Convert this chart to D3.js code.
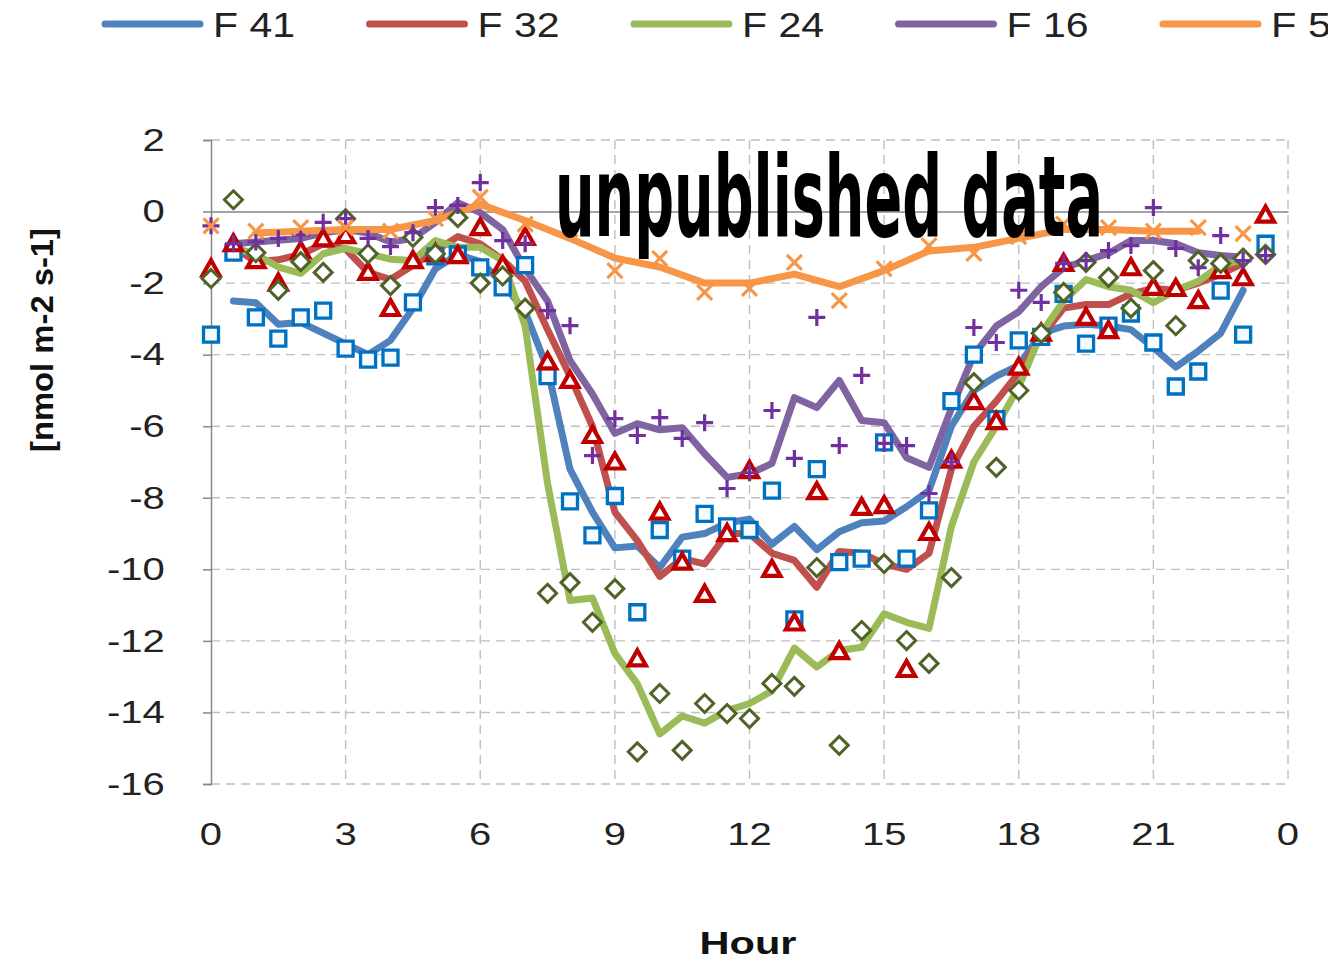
<!DOCTYPE html>
<html>
<head>
<meta charset="utf-8">
<script src="https://cdn.jsdelivr.net/npm/d3@7"></script>
<style>
  html, body { margin: 0; padding: 0; background: #fff; }
  svg { display: block; }
</style>
</head>
<body>
<svg id="chart" width="1328" height="960"></svg>
<script>
// Half-hourly sampling times (h) for the measured fluxes
const halfHours = d3.range(0, 24, 0.5);
// Hourly sampling times for F 5
const hours = d3.range(0, 24, 1);
// Smoothed curves: 0.5 h .. 23 h (half-hourly), F 5 smoothed: 1 h .. 22 h
const smoothHalfHours = d3.range(0.5, 23.01, 0.5);
const smoothHours = d3.range(1, 22.01, 1);

const seriesNames = ["F 41", "F 32", "F 24", "F 16", "F 5"];

// Measured values [nmol m-2 s-1]
const f41Points = [-3.44,-1.15,-2.96,-3.55,-2.96,-2.77,-3.83,-4.14,-4.08,-2.54,-1.25,-1.2,
  -1.56,-2.12,-1.5,-4.6,-8.1,-9.05,-7.95,-11.2,-8.9,-9.7,-8.45,-8.8,
  -8.9,-7.8,-11.4,-7.2,-9.8,-9.7,-6.45,-9.7,-8.35,-5.3,-4.0,-5.8,
  -3.6,-3.5,-2.3,-3.69,-3.19,-2.85,-3.66,-4.89,-4.47,-2.21,-3.44,-0.9];
const f32Points = [-1.6,-0.9,-1.37,-2.0,-1.1,-0.76,-0.67,-1.7,-2.71,-1.37,-1.18,-1.23,
  -0.45,-1.5,-0.72,-4.2,-4.72,-6.26,-7.0,-12.5,-8.4,-9.8,-10.7,-9.0,
  -7.24,-10.0,-11.5,-7.83,-12.3,-8.27,-8.22,-12.8,-8.97,-6.95,-5.31,-5.87,
  -4.35,-3.4,-1.45,-2.96,-3.33,-1.57,-2.12,-2.15,-2.49,-1.65,-1.85,-0.1];
const f24Points = [-1.87,0.33,-1.15,-2.2,-1.4,-1.7,-0.2,-1.18,-2.07,-0.72,-1.18,-0.17,
  -2.0,-1.8,-2.7,-10.67,-10.37,-11.48,-10.54,-15.1,-13.47,-15.06,-13.75,-14.03,
  -14.17,-13.19,-13.27,-9.95,-14.92,-11.71,-9.84,-11.99,-12.63,-10.23,-4.78,-7.15,
  -5.0,-3.4,-2.26,-1.42,-1.84,-2.7,-1.65,-3.19,-1.37,-1.45,-1.3,-1.2];
const f16Points = [-0.4,-0.9,-0.85,-0.75,-0.65,-0.3,-0.2,-0.75,-0.98,-0.59,0.11,0.17,
  0.81,-0.81,-0.9,-2.77,-3.19,-6.82,-5.79,-6.26,-5.76,-6.34,-5.9,-7.74,
  -7.3,-5.56,-6.9,-2.96,-6.54,-4.58,-6.48,-6.54,-7.88,-7.0,-3.24,-3.66,
  -2.2,-2.54,-1.45,-1.37,-1.09,-0.95,0.11,-1.03,-1.57,-0.67,-1.37,-1.23];
const f5Points = [-0.4,-0.55,-0.45,-0.45,-0.55,-0.2,0.4,-0.35,-0.5,-1.65,-1.31,-2.26,
  -2.15,-1.42,-2.49,-1.6,-0.95,-1.17,-0.7,-0.35,-0.45,-0.55,-0.45,-0.62];

// Smoothed curves
const f41Line = [-2.5,-2.55,-3.15,-3.1,-3.4,-3.7,-4.0,-3.6,-2.7,-1.6,
  -1.2,-1.4,-2.0,-2.8,-4.4,-7.2,-8.4,-9.4,-9.35,-9.95,
  -9.1,-9.0,-8.7,-8.6,-9.3,-8.8,-9.45,-8.95,-8.7,-8.65,
  -8.25,-7.8,-6.0,-5.0,-4.6,-4.3,-3.4,-3.2,-3.15,-3.2,
  -3.3,-3.8,-4.35,-3.9,-3.4,-2.2];
const f32Line = [-1.0,-1.4,-1.35,-1.2,-0.9,-1.05,-1.7,-1.9,-1.5,-1.1,
  -0.7,-0.9,-1.35,-1.95,-3.3,-4.6,-6.0,-8.4,-9.2,-10.2,
  -9.7,-9.85,-9.0,-9.0,-9.55,-9.75,-10.5,-9.5,-9.55,-9.85,
  -10.0,-9.55,-7.2,-6.0,-5.3,-4.5,-3.5,-2.7,-2.6,-2.6,
  -2.3,-2.15,-2.2,-2.0,-1.75,-1.45];
const f24Line = [-1.0,-1.2,-1.55,-1.73,-1.18,-1.03,-1.18,-1.33,-1.37,-0.81,
  -1.0,-1.0,-1.37,-3.2,-7.6,-10.87,-10.8,-12.35,-13.2,-14.6,
  -14.1,-14.3,-13.95,-13.75,-13.4,-12.2,-12.73,-12.27,-12.18,-11.24,
  -11.48,-11.65,-8.8,-7.0,-6.0,-4.9,-3.4,-2.5,-1.9,-2.1,
  -2.2,-2.55,-2.2,-1.95,-1.5,-1.35];
const f16Line = [-0.9,-0.85,-0.8,-0.75,-0.6,-0.5,-0.6,-0.85,-0.75,-0.3,
  0.25,-0.03,-0.5,-1.6,-2.5,-4.16,-5.1,-6.2,-5.93,-6.1,
  -6.04,-6.77,-7.43,-7.33,-7.04,-5.2,-5.48,-4.72,-5.84,-5.9,
  -6.88,-7.15,-5.5,-4.0,-3.2,-2.8,-2.1,-1.57,-1.37,-1.17,
  -0.81,-0.81,-0.9,-1.15,-1.23,-1.28];
const f5Line = [-0.6,-0.55,-0.5,-0.5,-0.25,0.2,-0.25,-0.75,-1.3,-1.55,-2.0,
  -2.0,-1.75,-2.1,-1.65,-1.1,-1.0,-0.75,-0.5,-0.5,-0.55,-0.55];

const xTickValues = [0, 3, 6, 9, 12, 15, 18, 21, 24];
const xTickLabels = ["0", "3", "6", "9", "12", "15", "18", "21", "0"];
const yTickValues = [2, 0, -2, -4, -6, -8, -10, -12, -14, -16];

// ---- layout ----
const svg = d3.select("#chart");
const plot = { left: 211, right: 1288, top: 140, bottom: 784 };
const x = d3.scaleLinear().domain([0, 24]).range([plot.left, plot.right]);
const y = d3.scaleLinear().domain([-16, 2]).range([plot.bottom, plot.top]);

const lineColors = ["#4F81BD", "#C0504D", "#9BBB59", "#8064A2", "#F79646"];
const markerColors = ["#0070C0", "#C00000", "#4F6228", "#7030A0", "#F79646"];

// gridlines
const grid = svg.append("g").attr("class", "grid");
grid.selectAll("line.h").data(yTickValues.filter(v => v !== 0)).join("line")
  .attr("x1", plot.left).attr("x2", plot.right)
  .attr("y1", d => y(d)).attr("y2", d => y(d))
  .attr("stroke", "#BFBFBF").attr("stroke-width", 1.4).attr("stroke-dasharray", "9,6");
grid.selectAll("line.v").data(xTickValues.slice(1)).join("line")
  .attr("x1", d => x(d)).attr("x2", d => x(d))
  .attr("y1", plot.top).attr("y2", plot.bottom)
  .attr("stroke", "#BFBFBF").attr("stroke-width", 1.4).attr("stroke-dasharray", "9,6");

// y axis
const yAxis = svg.append("g").attr("transform", `translate(${plot.left},0)`)
  .call(d3.axisLeft(y).tickValues(yTickValues).tickSize(8).tickPadding(29)
    .tickFormat(d => String(d)));
yAxis.select(".domain").attr("stroke", "#868686").attr("stroke-width", 1.5);
yAxis.selectAll(".tick line").attr("stroke", "#868686").attr("stroke-width", 1.5);
yAxis.selectAll(".tick text")
  .attr("font-family", "Liberation Sans, Arial, sans-serif")
  .attr("font-size", 32).attr("fill", "#222")
  .attr("transform", "scale(1.25,1)");

// zero line (x axis)
const xAxis = svg.append("g").attr("transform", `translate(0,${y(0)})`)
  .call(d3.axisBottom(x).tickValues(xTickValues).tickSize(0).tickFormat(""));
xAxis.select(".domain").attr("stroke", "#868686").attr("stroke-width", 1.5);

// x tick labels along the bottom
svg.append("g").selectAll("text").data(xTickValues).join("text")
  .attr("transform", d => `translate(${x(d)},${plot.bottom + 61}) scale(1.25,1)`)
  .attr("text-anchor", "middle")
  .attr("font-family", "Liberation Sans, Arial, sans-serif")
  .attr("font-size", 32).attr("fill", "#222")
  .text((d, i) => xTickLabels[i]);

// smoothed lines
const lineGen = d3.line().x(d => x(d[0])).y(d => y(d[1]));
const lineData = [
  d3.zip(smoothHalfHours, f41Line),
  d3.zip(smoothHalfHours, f32Line),
  d3.zip(smoothHalfHours, f24Line),
  d3.zip(smoothHalfHours, f16Line),
  d3.zip(smoothHours, f5Line)
];

// marker paths
const s = 7.5;
const markerPath = [
  `M${-s},${-s}H${s}V${s}H${-s}Z`,
  `M0,${-s - 1}L${s + 1},${s - 1}L${-s - 1},${s - 1}Z`,
  `M0,${-s - 1.5}L${s + 1.5},0L0,${s + 1.5}L${-s - 1.5},0Z`,
  `M${-s - 1},0H${s + 1}M0,${-s - 1}V${s + 1}`,
  `M${-s},${-s}L${s},${s}M${-s},${s}L${s},${-s}`
];
const markerFill = ["#F4FAFE", "#FFFFFF", "#FFFFFF", "none", "none"];
const markerWidth = [3.3, 4.2, 3, 3.2, 3.2];
const pointData = [
  d3.zip(halfHours, f41Points),
  d3.zip(halfHours, f32Points),
  d3.zip(halfHours, f24Points),
  d3.zip(halfHours, f16Points),
  d3.zip(hours, f5Points)
];

const linesG = svg.append("g");
lineData.forEach((data, i) => {
  linesG.append("path").datum(data)
    .attr("d", lineGen)
    .attr("fill", "none")
    .attr("stroke", lineColors[i])
    .attr("stroke-width", 7)
    .attr("stroke-linejoin", "round")
    .attr("stroke-linecap", "round");
});

const marksG = svg.append("g");
pointData.forEach((data, i) => {
  marksG.append("g").selectAll("path").data(data).join("path")
    .attr("transform", d => `translate(${x(d[0])},${y(d[1])})`)
    .attr("d", markerPath[i])
    .attr("fill", markerFill[i])
    .attr("stroke", markerColors[i])
    .attr("stroke-width", markerWidth[i])
    .attr("stroke-linejoin", "miter");
});

// legend
const legend = svg.append("g");
seriesNames.forEach((name, i) => {
  const x0 = 105 + i * 264.5;
  legend.append("line")
    .attr("x1", x0).attr("x2", x0 + 95).attr("y1", 24).attr("y2", 24)
    .attr("stroke", lineColors[i]).attr("stroke-width", 7).attr("stroke-linecap", "round");
  legend.append("text")
    .attr("x", x0 + 108).attr("y", 37)
    .attr("font-family", "Liberation Sans, Arial, sans-serif")
    .attr("font-size", 35).attr("fill", "#222")
    .attr("textLength", name === "F 5" ? 60 : 82).attr("lengthAdjust", "spacingAndGlyphs")
    .text(name);
});

// axis titles
svg.append("text")
  .attr("transform", `translate(53,340) rotate(-90)`)
  .attr("text-anchor", "middle")
  .attr("font-family", "Liberation Sans, Arial, sans-serif")
  .attr("font-weight", "bold").attr("font-size", 32).attr("fill", "#111")
  .attr("textLength", 224).attr("lengthAdjust", "spacingAndGlyphs")
  .text("[nmol m-2 s-1]");
svg.append("text")
  .attr("x", 748).attr("y", 954)
  .attr("text-anchor", "middle")
  .attr("font-family", "Liberation Sans, Arial, sans-serif")
  .attr("font-weight", "bold").attr("font-size", 31).attr("fill", "#111")
  .attr("textLength", 97).attr("lengthAdjust", "spacingAndGlyphs")
  .text("Hour");

// stamp across the top of the plot
svg.append("text")
  .attr("x", 555).attr("y", 236)
  .attr("font-family", "DejaVu Sans, sans-serif")
  .attr("font-weight", "bold").attr("font-size", 112).attr("fill", "#000")
  .attr("textLength", 548).attr("lengthAdjust", "spacingAndGlyphs")
  .text("unpublished data");
</script>
</body>
</html>
